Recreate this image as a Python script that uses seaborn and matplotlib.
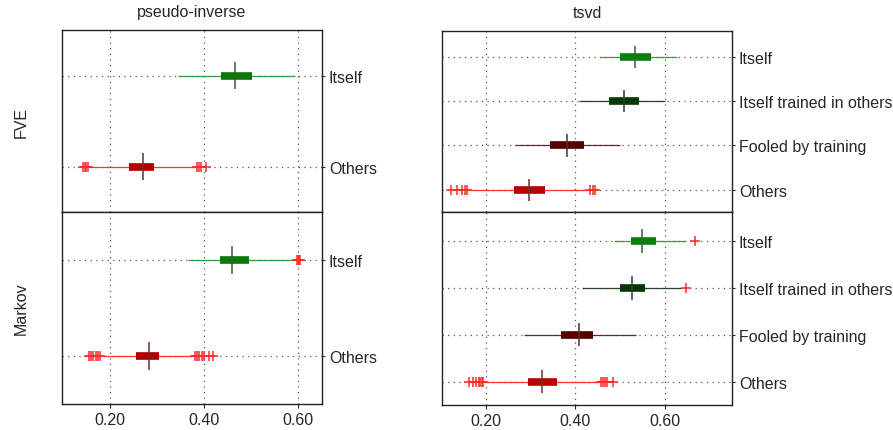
import numpy as np
import pandas as pd
import matplotlib
matplotlib.use("Agg")
import matplotlib.pyplot as plt
import seaborn as sns

sns.set_style("white")
plt.rcParams['font.family'] = ['Liberation Sans', 'DejaVu Sans']

pinv_rows = ["Itself", "Others"]
tsvd_rows = ["Itself", "Itself trained in others", "Fooled by training", "Others"]

# pseudo-inverse / FVE
pinv_fve_lo = [0.345, 0.158]
pinv_fve_q1 = [0.436, 0.240]
pinv_fve_med = [0.467, 0.270]
pinv_fve_q3 = [0.503, 0.294]
pinv_fve_hi = [0.594, 0.380]
pinv_fve_out = [[], [0.143, 0.146, 0.150, 0.154, 0.386, 0.390, 0.394, 0.405]]

# pseudo-inverse / Markov
pinv_mk_lo = [0.365, 0.185]
pinv_mk_q1 = [0.433, 0.255]
pinv_mk_med = [0.460, 0.284]
pinv_mk_q3 = [0.496, 0.305]
pinv_mk_hi = [0.589, 0.375]
pinv_mk_out = [[0.597, 0.600, 0.602, 0.604],
               [0.155, 0.160, 0.165, 0.170, 0.175, 0.179,
                0.381, 0.385, 0.390, 0.395, 0.399, 0.410, 0.420]]

# tsvd / FVE
tsvd_fve_lo = [0.455, 0.407, 0.265, 0.165]
tsvd_fve_q1 = [0.500, 0.475, 0.342, 0.263]
tsvd_fve_med = [0.534, 0.510, 0.382, 0.297]
tsvd_fve_q3 = [0.569, 0.543, 0.419, 0.331]
tsvd_fve_hi = [0.627, 0.601, 0.499, 0.425]
tsvd_fve_out = [[], [], [], [0.122, 0.135, 0.145, 0.153, 0.157, 0.433, 0.440, 0.444]]

# tsvd / Markov
tsvd_mk_lo = [0.487, 0.414, 0.285, 0.198]
tsvd_mk_q1 = [0.524, 0.500, 0.368, 0.293]
tsvd_mk_med = [0.549, 0.526, 0.407, 0.326]
tsvd_mk_q3 = [0.581, 0.556, 0.440, 0.358]
tsvd_mk_hi = [0.648, 0.640, 0.536, 0.452]
tsvd_mk_out = [[0.667], [0.648], [],
               [0.162, 0.170, 0.178, 0.183, 0.187, 0.190, 0.193,
                0.458, 0.462, 0.466, 0.470, 0.484]]

pinv_box_c = ["#0a780a", "#b00000"]
pinv_wh_c = ["#3a9a3a", "#ff3030"]
pinv_med_c = ["#3d5a3d", "#6a3030"]
tsvd_box_c = ["#0a800a", "#063806", "#560000", "#b80000"]
tsvd_wh_c = ["#3aa03a", "#304030", "#503030", "#ff3030"]
tsvd_med_c = ["#3d5a3d", "#303a30", "#503030", "#6a3030"]


def draw_panel(ax, rows, lo, q1, med, q3, hi, out, box_c, wh_c, med_c,
               med_half, ylim, xlim, show_x):
    y = np.arange(len(rows))
    ax.set_axisbelow(True)
    ax.hlines(y, lo, hi, colors=wh_c, lw=0.9, zorder=2)
    ax.hlines(y, q1, q3, colors=box_c, lw=5.5, zorder=3)
    ax.vlines(med, y - med_half, y + med_half, colors=med_c, lw=1.1, zorder=4)
    df = pd.DataFrame([(v, i) for i, vals in enumerate(out) for v in vals],
                      columns=["value", "row"])
    if len(df):
        sns.scatterplot(data=df, x="value", y="row", marker="+", color="#ff2a2a",
                        s=55, linewidth=1.1, ax=ax, zorder=5, legend=False)
    ax.set_xlabel("")
    ax.set_ylabel("")
    ax.set_xlim(*xlim)
    ax.set_ylim(*ylim)
    ax.set_xticks([0.2, 0.4, 0.6])
    ax.set_yticks(y)
    ax.grid(True, linestyle=(0, (1, 3.5)), color="#555555", lw=0.9)
    ax.yaxis.tick_right()
    ax.set_yticklabels(rows, fontsize=11.5)
    ax.tick_params(axis="y", right=True, length=2, width=0.8, pad=3)
    if show_x:
        ax.set_xticklabels(["0.20", "0.40", "0.60"], fontsize=11.5)
        ax.tick_params(axis="x", bottom=True, length=3, width=0.8, pad=3)
    else:
        ax.set_xticklabels([])
        ax.tick_params(axis="x", bottom=False)
    for s in ax.spines.values():
        s.set_color("#222222")
        s.set_linewidth(1.0)


fig = plt.figure(figsize=(8.93, 4.31), dpi=100)

ax1 = fig.add_axes([0.0694, 0.5058, 0.2912, 0.4222])
ax2 = fig.add_axes([0.0694, 0.0603, 0.2912, 0.4455])
ax3 = fig.add_axes([0.495, 0.5058, 0.3247, 0.4200])
ax4 = fig.add_axes([0.495, 0.0580, 0.3247, 0.4478])

draw_panel(ax1, pinv_rows, pinv_fve_lo, pinv_fve_q1, pinv_fve_med, pinv_fve_q3,
           pinv_fve_hi, pinv_fve_out, pinv_box_c, pinv_wh_c, pinv_med_c,
           0.15, (1.5, -0.5), (0.098, 0.651), False)
draw_panel(ax2, pinv_rows, pinv_mk_lo, pinv_mk_q1, pinv_mk_med, pinv_mk_q3,
           pinv_mk_hi, pinv_mk_out, pinv_box_c, pinv_wh_c, pinv_med_c,
           0.15, (1.5, -0.5), (0.098, 0.651), True)
draw_panel(ax3, tsvd_rows, tsvd_fve_lo, tsvd_fve_q1, tsvd_fve_med, tsvd_fve_q3,
           tsvd_fve_hi, tsvd_fve_out, tsvd_box_c, tsvd_wh_c, tsvd_med_c,
           0.25, (3.5, -0.58), (0.101, 0.751), False)
draw_panel(ax4, tsvd_rows, tsvd_mk_lo, tsvd_mk_q1, tsvd_mk_med, tsvd_mk_q3,
           tsvd_mk_hi, tsvd_mk_out, tsvd_box_c, tsvd_wh_c, tsvd_med_c,
           0.25, (3.5, -0.62), (0.101, 0.751), True)

fig.text(192 / 893, 1 - 13 / 431, "pseudo-inverse", ha="center", va="center", fontsize=11.5)
fig.text(587 / 893, 1 - 13 / 431, "tsvd", ha="center", va="center", fontsize=11.5)
fig.text(21 / 893, 1 - 122 / 431, "FVE", ha="center", va="center", rotation=90, fontsize=11.5)
fig.text(21 / 893, 1 - 309 / 431, "Markov", ha="center", va="center", rotation=90, fontsize=11.5)

fig.savefig("out.png", dpi=100)
